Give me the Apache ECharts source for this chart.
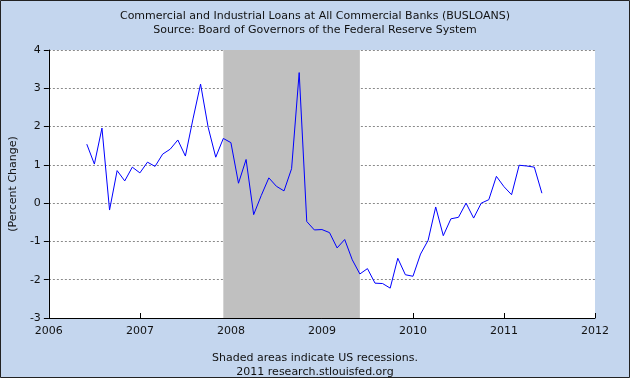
<!DOCTYPE html>
<html>
<head>
<meta charset="utf-8">
<script src="https://cdn.jsdelivr.net/npm/echarts@6/dist/echarts.min.js"></script>
<style>
html,body{margin:0;padding:0;}
#chart{width:630px;height:378px;background:#c4d6ee;}
</style>
</head>
<body>
<div id="chart"></div>
<script>
// Data (monthly, percent change)
const months = [
 '2006-06','2006-07','2006-08','2006-09','2006-10','2006-11','2006-12',
 '2007-01','2007-02','2007-03','2007-04','2007-05','2007-06','2007-07','2007-08','2007-09','2007-10','2007-11','2007-12',
 '2008-01','2008-02','2008-03','2008-04','2008-05','2008-06','2008-07','2008-08','2008-09','2008-10','2008-11','2008-12',
 '2009-01','2009-02','2009-03','2009-04','2009-05','2009-06','2009-07','2009-08','2009-09','2009-10','2009-11','2009-12',
 '2010-01','2010-02','2010-03','2010-04','2010-05','2010-06','2010-07','2010-08','2010-09','2010-10','2010-11','2010-12',
 '2011-01','2011-02','2011-03','2011-04','2011-05','2011-06'
];
const values = [
 1.54, 1.02, 1.96, -0.18, 0.85, 0.58, 0.94,
 0.79, 1.07, 0.96, 1.28, 1.41, 1.65, 1.23, 2.20, 3.11, 1.98, 1.20, 1.69,
 1.58, 0.52, 1.14, -0.30, 0.20, 0.66, 0.44, 0.32, 0.90, 3.41, -0.48, -0.70,
 -0.69, -0.77, -1.17, -0.95, -1.48, -1.85, -1.71, -2.09, -2.10, -2.22, -1.44, -1.87,
 -1.91, -1.33, -0.97, -0.10, -0.85, -0.41, -0.37, 0.00, -0.39, 0.00, 0.09, 0.70,
 0.43, 0.22, 0.99, 0.97, 0.94, 0.26
];
const recessionStart = '2007-12';
const recessionEnd = '2009-06';
const yearTicks = [2006, 2007, 2008, 2009, 2010, 2011, 2012];
const titleLines = ['Commercial and Industrial Loans at All Commercial Banks (BUSLOANS)',
                    'Source: Board of Governors of the Federal Reserve System'];
const footerLines = ['Shaded areas indicate US recessions.', '2011 research.stlouisfed.org'];

function toYear(s){ const p = s.split('-'); return +p[0] + (+p[1]-1)/12; }
const seriesData = months.map((m,i)=>[toYear(m), values[i]]);

const FONT = 'DejaVu Sans';
const TXT = {fontFamily:FONT, fontSize:11, fontWeight:'normal', color:'#111'};
const chart = echarts.init(document.getElementById('chart'), null, {renderer:'canvas'});
chart.setOption({
  backgroundColor: 'transparent',
  animation: false,
  textStyle: {fontFamily: FONT},
  title: [
    {text: titleLines[0], left: 'center', top: 6, textStyle: TXT},
    {text: titleLines[1], left: 'center', top: 20, textStyle: TXT},
    {text: footerLines[0], left: 'center', top: 348, textStyle: TXT},
    {text: footerLines[1], left: 'center', top: 362, textStyle: TXT}
  ],
  grid: {left: 45, right: 35, top: 50, bottom: 60, show: true, backgroundColor: '#ffffff', borderWidth: 0},
  xAxis: {
    type: 'value', min: yearTicks[0], max: yearTicks[yearTicks.length-1], interval: 1,
    axisLine: {show: true, onZero: false, lineStyle: {color: '#000', width: 1}},
    axisTick: {show: true, inside: true, length: 5, lineStyle: {color: '#000'}},
    axisLabel: {color: '#111', fontSize: 11, fontFamily: FONT, margin: 8, showMinLabel: true, showMaxLabel: true,
      formatter: v => String(Math.round(v))},
    splitLine: {show: false}
  },
  yAxis: {
    type: 'value', min: -3, max: 4, interval: 1,
    name: '(Percent Change)', nameLocation: 'middle', nameGap: 29, nameRotate: 90,
    nameTextStyle: {color: '#111', fontSize: 11, fontFamily: FONT},
    axisLine: {show: true, lineStyle: {color: '#000', width: 1}},
    axisTick: {show: true, inside: false, length: 5, lineStyle: {color: '#000'}},
    axisLabel: {color: '#111', fontSize: 11, fontFamily: FONT, margin: 8},
    splitLine: {show: true, lineStyle: {color: '#8a8a8a', type: [2, 2], width: 1}}
  },
  graphic: [{
    type: 'rect', silent: true, z: 100,
    shape: {x: 0.5, y: 0.5, width: 629, height: 377},
    style: {fill: 'none', stroke: '#222', lineWidth: 1}
  }],
  series: [{
    type: 'line', data: seriesData, showSymbol: false, symbol: 'none',
    lineStyle: {color: '#0000ff', width: 1}, itemStyle: {color: '#0000ff'},
    z: 5,
    markArea: {
      silent: true,
      itemStyle: {color: '#c0c0c0'},
      data: [[{xAxis: toYear(recessionStart)}, {xAxis: toYear(recessionEnd)}]]
    }
  }]
});
</script>
</body>
</html>
